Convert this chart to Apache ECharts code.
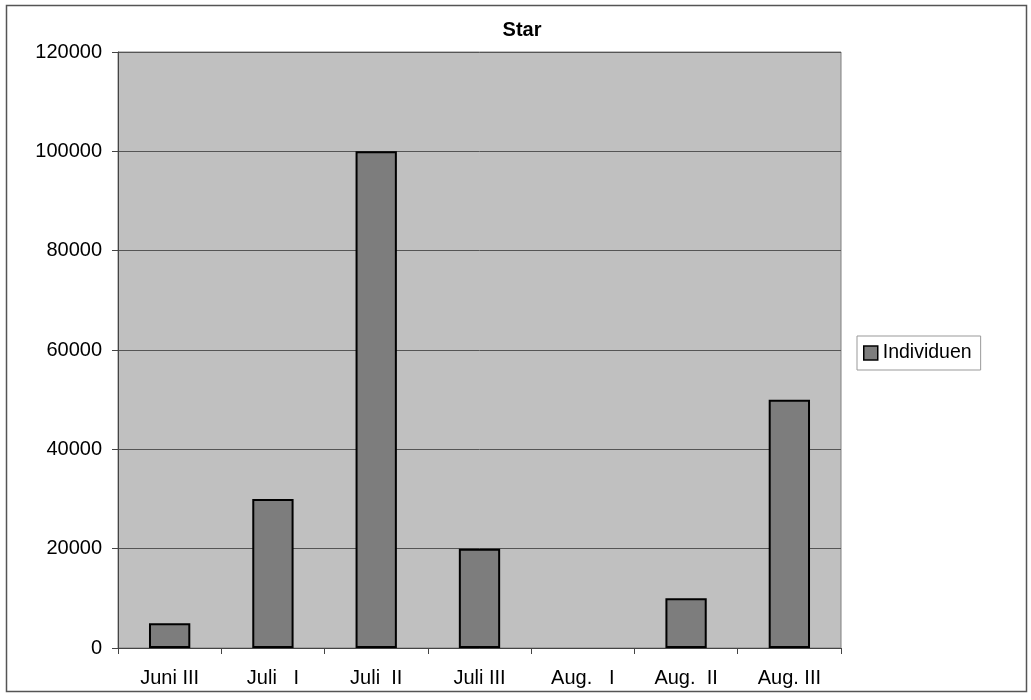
<!DOCTYPE html>
<html>
<head>
<meta charset="utf-8">
<script src="https://cdn.jsdelivr.net/npm/echarts@6/dist/echarts.min.js"></script>
<style>
html,body{margin:0;padding:0;background:#fff;}
#c{width:1031px;height:700px;}
</style>
</head>
<body>
<div id="c"></div>
<script>
const title = 'Star';
const categories = ['Juni III', 'Juli   I', 'Juli  II', 'Juli III', 'Aug.   I', 'Aug.  II', 'Aug. III'];
const seriesName = 'Individuen';
const values = [5000, 30000, 100000, 20000, 0, 10000, 50000];
const yTicks = [0, 20000, 40000, 60000, 80000, 100000, 120000];

const font = '"Liberation Sans", Arial, sans-serif';
const chart = echarts.init(document.getElementById('c'), null, {renderer: 'canvas'});
chart.setOption({
  animation: false,
  backgroundColor: '#fff',
  textStyle: {fontFamily: font},
  title: {
    text: title, left: 517, top: 15, textAlign: 'center',
    textStyle: {fontFamily: font, fontWeight: 'bold', fontSize: 20, color: '#000'}
  },
  graphic: [{
    type: 'rect', shape: {x: 6.5, y: 5.5, width: 1020, height: 686},
    style: {fill: 'none', stroke: '#555', lineWidth: 1.5}, silent: true
  }],
  legend: {
    left: 857, top: 336, orient: 'vertical',
    padding: [7, 9, 7, 6],
    borderColor: '#999', borderWidth: 1,
    itemWidth: 14, itemHeight: 14, itemGap: 4,
    icon: 'rect',
    textStyle: {fontFamily: font, fontSize: 19.5, color: '#000', padding: [0, 0, 0, 0]},
    data: [{name: seriesName, itemStyle: {color: '#7d7d7d', borderColor: '#000', borderWidth: 1.5}}]
  },
  grid: {
    left: 118, right: 190, top: 52, bottom: 52,
    show: true, backgroundColor: '#c0c0c0', borderColor: '#808080', borderWidth: 1
  },
  xAxis: {
    type: 'category', data: categories,
    axisLine: {show: true, lineStyle: {color: '#444', width: 1}},
    axisTick: {show: true, length: 6, lineStyle: {color: '#444'}},
    axisLabel: {fontFamily: font, fontSize: 20, color: '#000', margin: 20}
  },
  yAxis: {
    type: 'value', min: yTicks[0], max: yTicks[yTicks.length - 1], interval: yTicks[1] - yTicks[0],
    axisLine: {show: true, lineStyle: {color: '#444', width: 1}},
    axisTick: {show: true, length: 6, lineStyle: {color: '#444'}},
    axisLabel: {fontFamily: font, fontSize: 20, color: '#000', margin: 16, formatter: v => String(v)},
    splitLine: {show: true, lineStyle: {color: '#555', width: 1}}
  },
  series: [{
    name: seriesName, type: 'bar',
    data: values.map(v => (v === 0 ? '-' : v)),
    barCategoryGap: '60%',
    itemStyle: {color: '#7d7d7d', borderColor: '#000', borderWidth: 2}
  }]
});
</script>
</body>
</html>
